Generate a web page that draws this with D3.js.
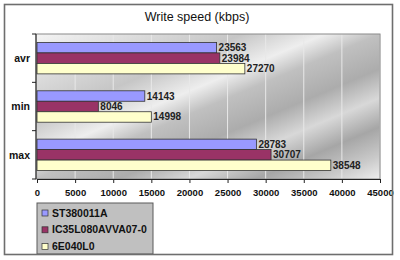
<!DOCTYPE html>
<html>
<head>
<meta charset="utf-8">
<script src="https://cdn.jsdelivr.net/npm/d3@7"></script>
<style>
  body { margin: 0; background: #fff; }
  text { font-family: Arial, "Liberation Sans", sans-serif; }
</style>
</head>
<body>
<div id="chart"></div>
<script>
const categories = ['avr', 'min', 'max']
const seriesNames = ['ST380011A', 'IC35L080AVVA07-0', '6E040L0']
const st380011a = [23563, 14143, 28783]
const ic35l080 = [23984, 8046, 30707]
const e040l0 = [27270, 14998, 38548]
const xTicks = [0, 5000, 10000, 15000, 20000, 25000, 30000, 35000, 40000, 45000]
const colors = ['#9999ff', '#993366', '#ffffcc']

const width = 400, height = 260
const plot = { left: 36, right: 380, top: 34, bottom: 179 }

const values = [st380011a, ic35l080, e040l0]
const rows = []
categories.forEach((c, i) => {
  seriesNames.forEach((s, j) => rows.push({ cat: c, series: s, idx: j, value: values[j][i] }))
})

const svg = d3.select('#chart').append('svg')
  .attr('width', width)
  .attr('height', height)

const defs = svg.append('defs')
const grad = defs.append('linearGradient')
  .attr('id', 'chrome')
  .attr('x1', 0).attr('y1', 0).attr('x2', 1).attr('y2', 1)
const stops = [[0, '#f4f4f4'], [0.18, '#d8d8d8'], [0.3, '#c6c6c6'], [0.42, '#eeeeee'],
  [0.5, '#c0c0c0'], [0.62, '#acacac'], [0.72, '#d8d8d8'], [0.82, '#a6a6a6'], [0.92, '#cacaca'], [1, '#eeeeee']]
grad.selectAll('stop').data(stops).enter().append('stop')
  .attr('offset', d => d[0])
  .attr('stop-color', d => d[1])

svg.append('rect')
  .attr('x', 4.5).attr('y', 4.5)
  .attr('width', 388).attr('height', 250)
  .attr('fill', '#fff')

svg.append('text')
  .attr('x', 197).attr('y', 21)
  .attr('text-anchor', 'middle')
  .attr('font-size', 12.5)
  .attr('fill', '#111')
  .text('Write speed (kbps)')

const x = d3.scaleLinear()
  .domain([0, 45000])
  .range([plot.left + 1, plot.right])
const y = d3.scaleBand()
  .domain(categories)
  .range([plot.top, plot.bottom])
  .paddingInner(0.35)
  .paddingOuter(0.175)
const ySub = d3.scaleBand()
  .domain(seriesNames)
  .range([0, y.bandwidth()])

svg.append('rect')
  .attr('x', plot.left).attr('y', plot.top)
  .attr('width', plot.right - plot.left)
  .attr('height', plot.bottom - plot.top)
  .attr('fill', 'url(#chrome)')

svg.append('g').selectAll('line')
  .data(xTicks.slice(1))
  .enter().append('line')
  .attr('x1', d => x(d)).attr('x2', d => x(d))
  .attr('y1', plot.top).attr('y2', plot.bottom)
  .attr('stroke', '#e8e8e8')
  .attr('stroke-width', 1)

svg.append('rect')
  .attr('x', plot.left).attr('y', plot.top)
  .attr('width', plot.right - plot.left)
  .attr('height', plot.bottom - plot.top)
  .attr('fill', 'none')
  .attr('stroke', '#8a8a8a')
  .attr('stroke-width', 1)

svg.append('g').selectAll('rect')
  .data(rows)
  .enter().append('rect')
  .attr('x', x(0))
  .attr('y', d => y(d.cat) + ySub(d.series))
  .attr('width', d => x(d.value) - x(0))
  .attr('height', ySub.bandwidth())
  .attr('fill', d => colors[d.idx])
  .attr('stroke', '#333')
  .attr('stroke-width', 0.8)

svg.append('g').selectAll('text')
  .data(rows)
  .enter().append('text')
  .attr('x', d => x(d.value) + 2)
  .attr('y', d => y(d.cat) + ySub(d.series) + ySub.bandwidth() / 2)
  .attr('dy', '0.35em')
  .attr('font-size', 10)
  .attr('font-weight', 'bold')
  .attr('fill', '#222')
  .text(d => d.value)

// x axis
const xAxis = svg.append('g')
  .attr('transform', `translate(0,${plot.bottom})`)
  .call(d3.axisBottom(x).tickValues(xTicks).tickSize(4).tickPadding(6).tickFormat(d3.format('d')))
xAxis.select('.domain').attr('stroke', '#222')
xAxis.selectAll('.tick line').attr('stroke', '#222')
xAxis.selectAll('text')
  .attr('font-size', 9.5)
  .attr('font-weight', 'bold')
  .attr('fill', '#111')
  .attr('font-family', 'Arial, "Liberation Sans", sans-serif')

// y axis: ticks sit between categories
const yAxis = svg.append('g')
const yEdges = [plot.top, (y('avr') + y('min') + y.bandwidth()) / 2, (y('min') + y('max') + y.bandwidth()) / 2, plot.bottom]
yAxis.append('line')
  .attr('x1', plot.left).attr('x2', plot.left)
  .attr('y1', plot.top).attr('y2', plot.bottom)
  .attr('stroke', '#222')
yAxis.selectAll('line.tk')
  .data(yEdges)
  .enter().append('line')
  .attr('class', 'tk')
  .attr('x1', plot.left - 4).attr('x2', plot.left)
  .attr('y1', d => d).attr('y2', d => d)
  .attr('stroke', '#222')
yAxis.selectAll('text')
  .data(categories)
  .enter().append('text')
  .attr('x', plot.left - 6)
  .attr('y', d => y(d) + y.bandwidth() / 2)
  .attr('dy', '0.35em')
  .attr('text-anchor', 'end')
  .attr('font-size', 10.5)
  .attr('font-weight', 'bold')
  .attr('fill', '#111')
  .text(d => d)

// legend
const legend = svg.append('g')
legend.append('rect')
  .attr('x', 37).attr('y', 203)
  .attr('width', 116).attr('height', 51)
  .attr('fill', '#c0c0c0')
  .attr('stroke', '#5a5a5a')
  .attr('stroke-width', 1)
const items = legend.selectAll('g.item')
  .data(seriesNames)
  .enter().append('g')
  .attr('transform', (d, i) => `translate(42,${213 + i * 16.8})`)
items.append('rect')
  .attr('x', 0).attr('y', -3)
  .attr('width', 6).attr('height', 6)
  .attr('fill', (d, i) => colors[i])
  .attr('stroke', '#333')
  .attr('stroke-width', 0.7)
items.append('text')
  .attr('x', 10).attr('y', 0)
  .attr('dy', '0.35em')
  .attr('font-size', 10.5)
  .attr('font-weight', 'bold')
  .attr('fill', '#111')
  .text(d => d)

// frame drawn last so the legend is cut by it
svg.append('rect')
  .attr('x', 4.5).attr('y', 4.5)
  .attr('width', 388).attr('height', 250)
  .attr('fill', 'none')
  .attr('stroke', '#6e6e6e')
  .attr('stroke-width', 1.6)
</script>
</body>
</html>
